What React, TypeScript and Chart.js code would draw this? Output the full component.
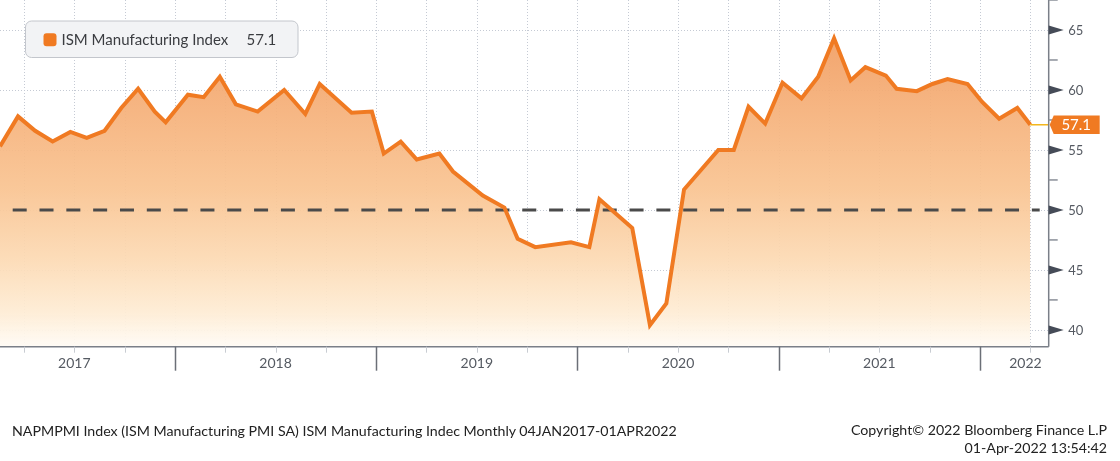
import React, { useEffect, useRef } from "react";
import { Chart, registerables } from "chart.js";

Chart.register(...registerables);

// ---- Data ----
const DATES = [
  "2017-02-17", "2017-03-21", "2017-04-21", "2017-05-23", "2017-06-24", "2017-07-24",
  "2017-08-26", "2017-09-25", "2017-10-26", "2017-11-25", "2017-12-15", "2018-01-25",
  "2018-02-21", "2018-03-22", "2018-04-20", "2018-05-30", "2018-07-17", "2018-08-25",
  "2018-09-20", "2018-11-17", "2018-12-24", "2019-01-15", "2019-02-14", "2019-03-14",
  "2019-04-24", "2019-05-19", "2019-07-12", "2019-08-21", "2019-09-14", "2019-10-16",
  "2019-12-20", "2020-01-23", "2020-02-10", "2020-04-09", "2020-05-11", "2020-06-10",
  "2020-07-12", "2020-09-13", "2020-10-11", "2020-11-07", "2020-12-07", "2021-01-08",
  "2021-02-11", "2021-03-12", "2021-04-10", "2021-05-10", "2021-06-06", "2021-07-13",
  "2021-08-02", "2021-09-08", "2021-10-06", "2021-11-03", "2021-12-09", "2022-01-05",
  "2022-02-05", "2022-03-08", "2022-04-01",
];
const VALUES = [
  55.3, 57.8, 56.6, 55.7, 56.5, 56.0,
  56.6, 58.5, 60.1, 58.2, 57.3, 59.6,
  59.4, 61.1, 58.8, 58.2, 60.0, 58.0,
  60.5, 58.1, 58.2, 54.7, 55.7, 54.2,
  54.7, 53.2, 51.2, 50.2, 47.6, 46.9,
  47.3, 46.9, 50.9, 48.5, 40.4, 42.2,
  51.7, 55.0, 55.0, 58.6, 57.2, 60.6,
  59.3, 61.1, 64.3, 60.8, 61.9, 61.2,
  60.1, 59.9, 60.5, 60.9, 60.5, 59.0,
  57.6, 58.5, 57.1,
];
const Y_TICKS = [40, 45, 50, 55, 60, 65];
const Y_MINOR = [42.5, 47.5, 52.5, 57.5, 62.5, 67.5];
const YEAR_LABELS = ["2017", "2018", "2019", "2020", "2021", "2022"];
const SERIES_NAME = "ISM Manufacturing Index";
const THRESHOLD = 50;
const X_MIN_DATE = "2017-02-17";
const X_MAX_DATE = "2022-05-04";
const Y_MIN = 38.6;
const Y_MAX = 67.5;
const FOOTER_LEFT =
  "NAPMPMI Index (ISM Manufacturing PMI SA) ISM Manufacturing Indec Monthly 04JAN2017-01APR2022";
const FOOTER_RIGHT_1 = "Copyright\u00A9 2022 Bloomberg Finance L.P";
const FOOTER_RIGHT_2 = "01-Apr-2022 13:54:42";

const ORANGE = "#f07a22";
const FONT = "Lato, 'Open Sans', sans-serif";

function monthIndex(s: string): number {
  const [y, m, d] = s.split("-").map(Number);
  const dim = new Date(y, m, 0).getDate();
  return (y - 2017) * 12 + (m - 1) + (d - 1) / dim;
}

const decorPlugin = {
  id: "decor",
  beforeDatasetsDraw(chart: any) {
    const { ctx, chartArea: a, scales } = chart;
    const x = scales.x;
    const y = scales.y;
    ctx.save();
    ctx.strokeStyle = "#c5cad4";
    ctx.lineWidth = 1;
    ctx.setLineDash([1, 2]);
    for (const v of Y_TICKS) {
      const py = Math.round(y.getPixelForValue(v)) + 0.5;
      ctx.beginPath();
      ctx.moveTo(a.left, py);
      ctx.lineTo(a.right, py);
      ctx.stroke();
    }
    for (let m = 0; m <= x.max; m += 3) {
      if (m < x.min) continue;
      const px = Math.round(x.getPixelForValue(m)) + 0.5;
      ctx.beginPath();
      ctx.moveTo(px, a.top);
      ctx.lineTo(px, a.bottom);
      ctx.stroke();
    }
    ctx.restore();
  },
  beforeDatasetDraw(chart: any) {
    const { ctx, chartArea: a, scales } = chart;
    const py = scales.y.getPixelForValue(THRESHOLD);
    ctx.save();
    ctx.strokeStyle = "#4a4a4a";
    ctx.lineWidth = 3;
    ctx.setLineDash([14, 12.82]);
    ctx.lineDashOffset = 14.12;
    ctx.beginPath();
    ctx.moveTo(a.left, py);
    ctx.lineTo(a.right - 9, py);
    ctx.stroke();
    ctx.restore();
  },
  afterDatasetsDraw(chart: any) {
    const { ctx, chartArea: a, scales } = chart;
    const x = scales.x;
    const y = scales.y;
    ctx.save();

    // last value guide line
    const lastV = VALUES[VALUES.length - 1];
    const lastX = x.getPixelForValue(monthIndex(DATES[DATES.length - 1]));
    const ly = y.getPixelForValue(lastV);
    ctx.strokeStyle = "#f3b71e";
    ctx.lineWidth = 1.5;
    ctx.beginPath();
    ctx.moveTo(lastX, ly);
    ctx.lineTo(a.right, ly);
    ctx.stroke();

    // axes lines
    ctx.strokeStyle = "#7a7f88";
    ctx.lineWidth = 1.5;
    ctx.beginPath();
    ctx.moveTo(a.right, a.top);
    ctx.lineTo(a.right, a.bottom);
    ctx.moveTo(a.left, a.bottom);
    ctx.lineTo(a.right, a.bottom);
    ctx.stroke();

    // y minor ticks
    ctx.strokeStyle = "#8a8f98";
    for (const v of Y_MINOR) {
      if (v < y.min || v > y.max) continue;
      const py = y.getPixelForValue(v);
      ctx.beginPath();
      ctx.moveTo(a.right, py);
      ctx.lineTo(a.right + 9, py);
      ctx.stroke();
    }
    // y major ticks (arrow heads) + labels
    ctx.font = `13px ${FONT}`;
    ctx.textBaseline = "middle";
    ctx.textAlign = "left";
    for (const v of Y_TICKS) {
      const py = y.getPixelForValue(v);
      ctx.fillStyle = "#454b57";
      ctx.beginPath();
      ctx.moveTo(a.right, py - 4.5);
      ctx.lineTo(a.right + 15, py);
      ctx.lineTo(a.right, py + 4.5);
      ctx.closePath();
      ctx.fill();
      ctx.fillStyle = "#555a62";
      ctx.fillText(String(v), a.right + 19.5, py + 0.5);
    }

    // x ticks
    for (let m = 0; m <= x.max; m += 3) {
      if (m < x.min) continue;
      const px = Math.round(x.getPixelForValue(m)) + 0.5;
      const isYear = m % 12 === 0;
      ctx.strokeStyle = isYear ? "#6b6f77" : "#c8ccd2";
      ctx.lineWidth = isYear ? 1.5 : 1;
      ctx.beginPath();
      ctx.moveTo(px, a.bottom);
      ctx.lineTo(px, a.bottom + (isYear ? 24 : 6));
      ctx.stroke();
    }
    // year labels
    ctx.font = `14px ${FONT}`;
    ctx.textAlign = "center";
    ctx.fillStyle = "#555a62";
    YEAR_LABELS.forEach((lab, i) => {
      const mid = x.getPixelForValue(i * 12 + 6);
      const w = ctx.measureText(lab).width;
      let cx = mid;
      cx = Math.max(cx, a.left + w / 2);
      cx = Math.min(cx, a.right - 7 - w / 2);
      ctx.fillText(lab, cx, a.bottom + 17);
    });

    // last value tag
    ctx.fillStyle = ORANGE;
    ctx.beginPath();
    ctx.moveTo(a.right + 1, ly);
    ctx.lineTo(a.right + 5, ly - 9.2);
    ctx.lineTo(a.right + 51, ly - 9.2);
    ctx.lineTo(a.right + 51, ly + 9.2);
    ctx.lineTo(a.right + 5, ly + 9.2);
    ctx.closePath();
    ctx.fill();
    ctx.fillStyle = "#ffffff";
    ctx.font = `15px ${FONT}`;
    ctx.textAlign = "center";
    ctx.fillText(lastV.toFixed(1), a.right + 27.5, ly + 0.5);

    // legend box
    const bx = 25.5, by = 21, bw = 272.5, bh = 36.5, r = 6;
    ctx.beginPath();
    ctx.moveTo(bx + r, by);
    ctx.arcTo(bx + bw, by, bx + bw, by + bh, r);
    ctx.arcTo(bx + bw, by + bh, bx, by + bh, r);
    ctx.arcTo(bx, by + bh, bx, by, r);
    ctx.arcTo(bx, by, bx + bw, by, r);
    ctx.closePath();
    ctx.fillStyle = "#f2f3f5";
    ctx.fill();
    ctx.strokeStyle = "#c3c6cc";
    ctx.lineWidth = 1;
    ctx.stroke();
    // swatch
    const sx = 43.5, sy = 33.3, ss = 13, sr = 3;
    ctx.beginPath();
    ctx.moveTo(sx + sr, sy);
    ctx.arcTo(sx + ss, sy, sx + ss, sy + ss, sr);
    ctx.arcTo(sx + ss, sy + ss, sx, sy + ss, sr);
    ctx.arcTo(sx, sy + ss, sx, sy, sr);
    ctx.arcTo(sx, sy, sx + ss, sy, sr);
    ctx.closePath();
    ctx.fillStyle = ORANGE;
    ctx.fill();
    ctx.font = `15px ${FONT}`;
    ctx.textAlign = "left";
    ctx.fillStyle = "#3a3c40";
    ctx.fillText(SERIES_NAME, 61.5, 40);
    ctx.fillText(lastV.toFixed(1), 246.5, 40);

    ctx.restore();
  },
};

export default function App() {
  const canvasRef = useRef<HTMLCanvasElement | null>(null);

  useEffect(() => {
    const canvas = canvasRef.current;
    if (!canvas) return;
    const points = DATES.map((d, i) => ({ x: monthIndex(d), y: VALUES[i] }));
    const chart = new Chart(canvas, {
      type: "line",
      data: {
        datasets: [
          {
            label: SERIES_NAME,
            data: points,
            borderColor: ORANGE,
            borderWidth: 4,
            borderJoinStyle: "miter",
            pointRadius: 0,
            tension: 0,
            fill: "start",
            backgroundColor: (c: any) => {
              const ch = c.chart;
              const area = ch.chartArea;
              if (!area) return "rgba(245,176,122,0.9)";
              const g = ch.ctx.createLinearGradient(0, area.top, 0, area.bottom);
              g.addColorStop(0, "rgba(239,148,86,0.93)");
              g.addColorStop(0.3, "rgba(245,175,120,0.93)");
              g.addColorStop(0.55, "rgba(249,196,146,0.93)");
              g.addColorStop(0.75, "rgba(252,218,180,0.93)");
              g.addColorStop(0.9, "rgba(254,236,212,0.93)");
              g.addColorStop(1, "rgba(255,251,245,0.95)");
              return g;
            },
          },
        ],
      },
      options: {
        animation: false,
        responsive: false,
        maintainAspectRatio: false,
        layout: { padding: { left: 0, right: 71.3, top: 0, bottom: 114.3 } },
        scales: {
          x: { type: "linear", min: monthIndex(X_MIN_DATE), max: monthIndex(X_MAX_DATE), display: false },
          y: { min: Y_MIN, max: Y_MAX, display: false },
        },
        plugins: { legend: { display: false }, tooltip: { enabled: false } },
      },
      plugins: [decorPlugin],
    } as any);
    return () => chart.destroy();
  }, []);

  return (
    <div style={{ position: "absolute", left: 0, top: 0, width: 1120, height: 461, background: "#fff", fontFamily: FONT }}>
      <canvas ref={canvasRef} width={1120} height={461} style={{ display: "block", width: 1120, height: 461 }} />
      <div style={{ position: "absolute", left: 12, top: 422, fontSize: 14.2, lineHeight: "18px", color: "#222", whiteSpace: "nowrap" }}>
        {FOOTER_LEFT}
      </div>
      <div style={{ position: "absolute", right: 13, top: 421, fontSize: 14.2, lineHeight: "18px", color: "#222", textAlign: "right", whiteSpace: "nowrap" }}>
        <div>{FOOTER_RIGHT_1}</div>
        <div>{FOOTER_RIGHT_2}</div>
      </div>
    </div>
  );
}
